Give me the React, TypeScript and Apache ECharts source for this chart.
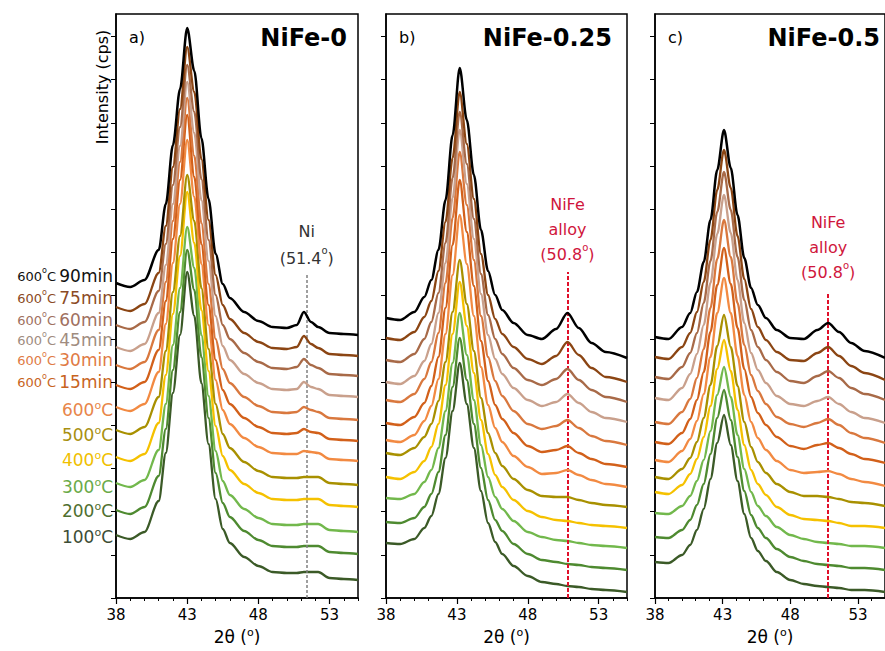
import React, { useEffect, useRef } from "react";
import * as echarts from "echarts";

const FONT = '"DejaVu Sans", "Liberation Sans", Arial, sans-serif';

// 2θ sampling (degrees) for each sample
const TWO_THETA_NIFE0 = [38, 39, 40, 41, 41.5, 42, 42.5, 43, 43.5, 44, 44.5, 45, 45.5, 46, 47, 48, 49, 50, 50.7, 51.2, 51.7, 52.2, 53, 54, 55];
const TWO_THETA_NIFE025 = [38, 39, 40, 40.7, 41.2, 41.7, 42.2, 42.7, 43.2, 43.7, 44.2, 44.7, 45.2, 45.7, 46.2, 47, 48, 49, 50, 50.8, 51.6, 52.5, 53.5, 55];
const TWO_THETA_NIFE05 = [38, 39, 40, 40.6, 41.1, 41.6, 42.1, 42.6, 43.1, 43.6, 44.1, 44.6, 45.1, 45.6, 46.2, 47, 48, 49, 50, 50.8, 51.6, 52.5, 53.5, 55];

// Offset (stacked) intensities, a.u. — NiFe-0
const NIFE0_100C = [6.3, 5.9, 6.6, 9.7, 14.5, 20.5, 26.3, 32.6, 28.2, 21.5, 15.4, 9.9, 6.9, 5.5, 4.1, 3.2, 2.6, 2.5, 2.5, 2.6, 2.6, 2.6, 2.0, 1.9, 1.8];
const NIFE0_200C = [8.8, 8.4, 9.1, 12.2, 16.9, 22.8, 28.6, 34.8, 30.8, 24.1, 18.0, 12.5, 9.5, 8.1, 6.7, 5.8, 5.2, 5.1, 5.1, 5.2, 5.2, 5.2, 4.6, 4.5, 4.4];
const NIFE0_300C = [11.5, 11.1, 11.8, 14.8, 19.4, 25.3, 31.0, 37.1, 33.0, 26.3, 20.2, 14.7, 11.7, 10.3, 8.9, 8.0, 7.4, 7.3, 7.3, 7.4, 7.4, 7.4, 6.8, 6.7, 6.6];
const NIFE0_400C = [14.1, 13.7, 14.4, 17.5, 22.3, 28.4, 34.2, 40.6, 35.5, 28.8, 22.7, 17.2, 14.2, 12.8, 11.4, 10.5, 9.9, 9.8, 9.8, 9.9, 9.9, 9.9, 9.3, 9.2, 9.1];
const NIFE0_500C = [16.8, 16.4, 17.1, 20.1, 24.7, 30.6, 36.2, 42.3, 37.7, 31.0, 24.9, 19.4, 16.4, 15.0, 13.6, 12.7, 12.1, 12.0, 12.0, 12.1, 12.1, 12.1, 11.5, 11.4, 11.3];
const NIFE0_600C = [19.1, 18.7, 19.4, 22.6, 27.4, 33.5, 39.4, 45.8, 40.1, 33.4, 27.3, 21.8, 18.8, 17.4, 16.0, 15.1, 14.5, 14.4, 14.4, 14.7, 14.6, 14.5, 13.9, 13.8, 13.7];
const NIFE0_15MIN = [21.3, 20.9, 21.6, 24.8, 29.7, 35.9, 41.8, 48.3, 42.1, 35.4, 29.3, 23.8, 20.8, 19.4, 18.0, 17.1, 16.5, 16.4, 16.5, 16.9, 16.6, 16.5, 15.9, 15.8, 15.7];
const NIFE0_30MIN = [23.3, 22.9, 23.6, 26.8, 31.6, 37.7, 43.6, 50.0, 44.2, 37.5, 31.4, 25.9, 22.9, 21.5, 20.1, 19.2, 18.6, 18.5, 18.6, 19.1, 18.8, 18.6, 18.0, 17.9, 17.8];
const NIFE0_45MIN = [25.1, 24.7, 25.4, 28.5, 33.3, 39.4, 45.2, 51.6, 46.5, 39.8, 33.7, 28.2, 25.2, 23.8, 22.4, 21.5, 20.9, 20.8, 20.9, 21.6, 21.1, 20.9, 20.3, 20.2, 20.1];
const NIFE0_60MIN = [27.3, 26.9, 27.6, 30.7, 35.4, 41.3, 47.1, 53.3, 48.6, 41.9, 35.8, 30.3, 27.3, 25.9, 24.5, 23.6, 23.0, 22.9, 23.1, 23.9, 23.3, 23.0, 22.4, 22.3, 22.2];
const NIFE0_75MIN = [29.1, 28.7, 29.4, 32.5, 37.2, 43.1, 48.9, 55.1, 50.6, 43.9, 37.8, 32.3, 29.3, 27.9, 26.5, 25.6, 25.0, 24.9, 25.1, 26.2, 25.4, 25.0, 24.4, 24.3, 24.2];
const NIFE0_90MIN = [31.5, 31.1, 31.8, 34.8, 39.4, 45.3, 50.9, 57.0, 52.7, 46.0, 39.9, 34.4, 31.4, 30.0, 28.6, 27.7, 27.1, 27.0, 27.3, 28.6, 27.6, 27.1, 26.5, 26.4, 26.3];

// NiFe-0.25
const NIFE025_100C = [5.5, 5.4, 5.9, 7.0, 8.2, 10.4, 14.0, 18.7, 23.5, 19.4, 15.0, 10.7, 7.5, 5.6, 4.4, 3.2, 2.2, 1.6, 1.4, 1.2, 1.1, 0.9, 0.8, 0.6];
const NIFE025_200C = [7.6, 7.5, 8.0, 9.1, 10.4, 12.6, 16.3, 21.1, 26.0, 21.8, 17.4, 13.0, 9.8, 7.8, 6.7, 5.4, 4.4, 3.8, 3.6, 3.4, 3.3, 3.1, 3.0, 2.8];
const NIFE025_300C = [10.0, 9.9, 10.4, 11.6, 12.8, 15.0, 18.7, 23.5, 28.5, 24.3, 19.8, 15.3, 12.1, 10.1, 8.9, 7.7, 6.6, 6.1, 5.8, 5.7, 5.5, 5.3, 5.2, 5.0];
const NIFE025_400C = [12.1, 11.9, 12.6, 13.7, 15.1, 17.4, 21.3, 26.4, 31.6, 27.2, 22.5, 17.8, 14.4, 12.3, 11.1, 9.8, 8.7, 8.1, 7.8, 7.7, 7.5, 7.3, 7.2, 7.0];
const NIFE025_500C = [14.5, 14.3, 15.0, 16.1, 17.4, 19.7, 23.6, 28.6, 33.8, 29.4, 24.7, 20.0, 16.5, 14.5, 13.2, 11.9, 10.8, 10.2, 10.1, 10.1, 9.8, 9.5, 9.3, 9.1];
const NIFE025_600C = [15.8, 15.6, 16.3, 17.7, 19.2, 21.9, 26.4, 32.3, 38.3, 33.4, 28.2, 23.1, 19.3, 17.0, 15.6, 14.2, 13.1, 12.4, 12.5, 12.8, 12.3, 11.8, 11.4, 11.1];
const NIFE025_15MIN = [17.5, 17.3, 18.1, 19.5, 21.2, 24.1, 29.0, 35.3, 41.8, 36.6, 31.2, 25.7, 21.7, 19.3, 17.9, 16.5, 15.2, 14.6, 14.8, 15.2, 14.5, 13.9, 13.4, 13.1];
const NIFE025_30MIN = [19.8, 19.6, 20.4, 21.9, 23.6, 26.5, 31.5, 38.0, 44.6, 39.3, 33.8, 28.2, 24.1, 21.7, 20.2, 18.7, 17.4, 16.9, 17.2, 17.8, 17.0, 16.2, 15.7, 15.3];
const NIFE025_45MIN = [21.6, 21.4, 22.2, 23.7, 25.4, 28.5, 33.5, 40.0, 46.8, 41.4, 35.9, 30.4, 26.3, 23.9, 22.4, 21.0, 19.8, 19.2, 19.6, 20.4, 19.5, 18.6, 18.0, 17.6];
const NIFE025_60MIN = [23.8, 23.6, 24.4, 25.9, 27.6, 30.5, 35.5, 42.0, 48.6, 43.4, 37.9, 32.4, 28.3, 25.9, 24.4, 23.0, 21.8, 21.3, 21.9, 22.9, 21.8, 20.8, 20.1, 19.6];
const NIFE025_75MIN = [26.0, 25.8, 26.6, 28.1, 29.7, 32.7, 37.6, 44.0, 50.6, 45.4, 39.9, 34.4, 30.3, 27.9, 26.4, 25.1, 23.9, 23.4, 24.2, 25.6, 24.3, 23.0, 22.1, 21.6];
const NIFE025_90MIN = [28.0, 27.8, 28.6, 30.1, 31.8, 34.8, 39.8, 46.3, 53.0, 47.8, 42.3, 36.8, 32.7, 30.3, 28.8, 27.5, 26.3, 25.9, 26.9, 28.5, 27.0, 25.5, 24.6, 24.0];

// NiFe-0.5
const NIFE05_100C = [3.6, 3.5, 4.3, 5.3, 6.8, 8.9, 11.9, 15.5, 18.3, 15.3, 11.7, 8.4, 6.0, 4.7, 3.7, 2.6, 1.8, 1.4, 1.2, 1.1, 1.0, 0.8, 0.8, 0.6];
const NIFE05_200C = [6.1, 6.0, 6.8, 7.8, 9.3, 11.4, 14.4, 18.0, 20.8, 17.8, 14.1, 10.7, 8.3, 7.0, 6.0, 4.9, 4.1, 3.7, 3.4, 3.3, 3.2, 3.0, 3.0, 2.8];
const NIFE05_300C = [8.5, 8.4, 9.2, 10.2, 11.7, 13.8, 16.7, 20.3, 23.1, 20.1, 16.3, 12.9, 10.6, 9.2, 8.2, 7.1, 6.3, 5.9, 5.6, 5.5, 5.4, 5.2, 5.2, 5.0];
const NIFE05_400C = [10.6, 10.4, 11.3, 12.4, 13.9, 16.1, 19.2, 22.9, 25.8, 22.7, 18.8, 15.3, 12.8, 11.4, 10.3, 9.1, 8.3, 7.9, 7.8, 7.7, 7.5, 7.2, 7.2, 7.0];
const NIFE05_500C = [12.1, 11.9, 12.9, 14.0, 15.6, 18.0, 21.3, 25.2, 28.3, 25.1, 21.2, 17.6, 15.1, 13.6, 12.5, 11.4, 10.6, 10.2, 10.2, 10.1, 9.9, 9.6, 9.5, 9.2];
const NIFE05_600C = [13.8, 13.6, 14.7, 15.9, 17.7, 20.4, 24.1, 28.5, 32.0, 28.5, 24.2, 20.3, 17.6, 16.0, 14.8, 13.7, 12.8, 12.5, 12.6, 12.7, 12.4, 11.9, 11.6, 11.2];
const NIFE05_15MIN = [15.6, 15.4, 16.5, 17.9, 19.8, 22.6, 26.6, 31.3, 35.0, 31.4, 27.0, 22.9, 20.1, 18.5, 17.3, 16.1, 15.2, 14.9, 15.3, 15.5, 15.0, 14.4, 13.9, 13.5];
const NIFE05_30MIN = [17.6, 17.4, 18.6, 19.9, 22.0, 24.9, 29.0, 33.9, 37.8, 34.1, 29.5, 25.3, 22.3, 20.7, 19.4, 18.1, 17.4, 17.1, 17.5, 17.9, 17.3, 16.5, 16.0, 15.5];
const NIFE05_45MIN = [20.0, 19.8, 21.0, 22.4, 24.4, 27.3, 31.5, 36.4, 40.3, 36.5, 31.8, 27.5, 24.5, 22.8, 21.5, 20.2, 19.4, 19.2, 19.7, 20.1, 19.4, 18.6, 18.0, 17.5];
const NIFE05_60MIN = [22.1, 21.9, 23.1, 24.5, 26.5, 29.5, 33.7, 38.6, 42.6, 38.8, 34.1, 29.8, 26.8, 25.1, 23.8, 22.6, 21.7, 21.5, 22.2, 22.7, 22.0, 21.0, 20.4, 19.8];
const NIFE05_75MIN = [24.1, 23.9, 25.1, 26.5, 28.6, 31.6, 35.8, 40.8, 44.8, 41.0, 36.2, 31.9, 28.9, 27.1, 25.8, 24.6, 23.8, 23.7, 24.5, 25.1, 24.2, 23.2, 22.5, 21.8];
const NIFE05_90MIN = [26.1, 25.9, 27.1, 28.5, 30.6, 33.6, 37.8, 42.8, 46.8, 43.0, 38.3, 34.0, 31.0, 29.3, 28.0, 26.8, 26.0, 25.9, 26.8, 27.5, 26.6, 25.5, 24.7, 24.0];

// Heat-treatment steps, bottom to top
const STEP_TEMPS = ["100", "200", "300", "400", "500", "600", "600", "600", "600", "600", "600", "600"];
const STEP_HOLDS = ["", "", "", "", "", "", "15min", "30min", "45min", "60min", "75min", "90min"];

const X_TICKS = [38, 43, 48, 53];
const NI_PEAK = 51.4;
const ALLOY_PEAK = 50.8;

// styling
const CURVE_COLORS = ["#3b5a27", "#4e8a30", "#72b84c", "#f5c100", "#a89000", "#f28a42", "#d2601a", "#d9783e", "#c9a08c", "#a86a48", "#8b4513", "#000000"];
const LABEL_COLORS = ["#3d4d35", "#4f6f30", "#6aaa48", "#f0c000", "#a89010", "#e8864a", "#c8641e", "#e07a44", "#a08c80", "#a07060", "#8b4a25", "#111111"];
const LABEL_Y = [537, 511, 487, 460, 435, 410, 382, 360, 340, 320, 298, 276];

const Y_MAX = 58.4;
const Y_STEP = 4.32;
const Y_TICKS = Array.from({ length: 14 }, (_, i) => +(i * Y_STEP).toFixed(2));

const RED = "#d0163c";

const PANELS = [
  {
    x: TWO_THETA_NIFE0,
    curves: [NIFE0_100C, NIFE0_200C, NIFE0_300C, NIFE0_400C, NIFE0_500C, NIFE0_600C, NIFE0_15MIN, NIFE0_30MIN, NIFE0_45MIN, NIFE0_60MIN, NIFE0_75MIN, NIFE0_90MIN],
    left: 116, width: 242, letter: "a)", title: "NiFe-0",
    peak: NI_PEAK, markTop: 32.3, markColor: "#808080", textColor: "#333333",
    markText: "{t|Ni}\n{t|(" + NI_PEAK + "}{s|o}{t|)}", markDist: 3, lh: 27, dash: [3, 2], mw: 1.5,
  },
  {
    x: TWO_THETA_NIFE025,
    curves: [NIFE025_100C, NIFE025_200C, NIFE025_300C, NIFE025_400C, NIFE025_500C, NIFE025_600C, NIFE025_15MIN, NIFE025_30MIN, NIFE025_45MIN, NIFE025_60MIN, NIFE025_75MIN, NIFE025_90MIN],
    left: 386, width: 241, letter: "b)", title: "NiFe-0.25",
    peak: ALLOY_PEAK, markTop: 32.6, markColor: "#e0102a", textColor: RED,
    markText: "{t|NiFe}\n{t|alloy}\n{t|(" + ALLOY_PEAK + "}{s|o}{t|)}", markDist: 5, lh: 25, dash: [4, 2], mw: 2,
  },
  {
    x: TWO_THETA_NIFE05,
    curves: [NIFE05_100C, NIFE05_200C, NIFE05_300C, NIFE05_400C, NIFE05_500C, NIFE05_600C, NIFE05_15MIN, NIFE05_30MIN, NIFE05_45MIN, NIFE05_60MIN, NIFE05_75MIN, NIFE05_90MIN],
    left: 655, width: 241, letter: "c)", title: "NiFe-0.5",
    peak: ALLOY_PEAK, markTop: 30.5, markColor: "#e0102a", textColor: RED,
    markText: "{t|NiFe}\n{t|alloy}\n{t|(" + ALLOY_PEAK + "}{s|o}{t|)}", markDist: 8, lh: 25, dash: [4, 2], mw: 2,
  },
];

const TITLE_RIGHT = [347, 612, 880];

function buildOption() {
  const grid: any[] = [];
  const xAxis: any[] = [];
  const yAxis: any[] = [];
  const series: any[] = [];
  const graphic: any[] = [];

  PANELS.forEach((p, i) => {
    grid.push({
      left: p.left, top: 14, width: p.width, height: 584,
      show: true, borderColor: "#000", borderWidth: 1.5, backgroundColor: "transparent",
    });
    xAxis.push({
      gridIndex: i, type: "value", min: 38, max: 55, interval: 1, position: "bottom",
      axisLine: { onZero: false, lineStyle: { color: "#000", width: 1.5 } },
      axisTick: { inside: false, length: 3, lineStyle: { color: "#000", width: 1 } },
      axisLabel: { customValues: X_TICKS, color: "#000", fontSize: 15, fontFamily: FONT, margin: 9 },
      splitLine: { show: false },
      name: "{n|2θ (}{o|o}{n|)}",
      nameLocation: "middle", nameGap: 26,
      nameTextStyle: {
        rich: {
          n: { fontSize: 17, fontFamily: FONT, color: "#000", lineHeight: 20 },
          o: { fontSize: 11, fontFamily: FONT, color: "#000", verticalAlign: "top", lineHeight: 12 },
        },
      },
    });
    xAxis.push({
      gridIndex: i, type: "value", min: 38, max: 55, position: "bottom",
      axisLine: { show: false },
      axisTick: { customValues: X_TICKS, inside: false, length: 6, lineStyle: { color: "#000", width: 1.2 } },
      axisLabel: { show: false },
      splitLine: { show: false },
    });
    yAxis.push({
      gridIndex: i, type: "value", min: 0, max: Y_MAX,
      axisLine: { show: true, lineStyle: { color: "#000", width: 1.5 } },
      axisTick: { show: true, inside: false, length: 5, customValues: Y_TICKS, lineStyle: { color: "#000", width: 1 } },
      axisLabel: { show: false },
      splitLine: { show: false },
    });

    p.curves.forEach((ys, k) => {
      const s: any = {
        type: "line", xAxisIndex: 2 * i, yAxisIndex: i,
        data: p.x.map((x, j) => [x, ys[j]]),
        symbol: "none", showSymbol: false, smooth: 0.3, smoothMonotone: "x",
        lineStyle: { color: CURVE_COLORS[k], width: k === 11 ? 2.5 : 2.3 },
        silent: true, z: 2 + k,
      };
      if (k === 11) {
        s.markLine = {
          silent: true, symbol: ["none", "none"], animation: false,
          lineStyle: { color: p.markColor, type: p.dash, width: p.mw },
          label: {
            show: true, position: "end", distance: p.markDist,
            formatter: p.markText,
            rich: {
              t: { fontSize: 16, fontFamily: FONT, color: p.textColor, lineHeight: p.lh, align: "center" },
              s: { fontSize: 10, fontFamily: FONT, color: p.textColor, verticalAlign: "top", lineHeight: 12 },
            },
          },
          data: [[{ coord: [p.peak, 0] }, { coord: [p.peak, p.markTop] }]],
        };
      }
      series.push(s);
    });

    graphic.push({
      type: "text", x: p.left + 13, y: 37, silent: true,
      style: { text: p.letter, fill: "#000", font: `16px ${FONT}`, align: "left", verticalAlign: "middle" },
    });
    graphic.push({
      type: "text", x: TITLE_RIGHT[i], y: 38, silent: true,
      style: { text: p.title, fill: "#000", font: `bold 24px ${FONT}`, align: "right", verticalAlign: "middle" },
    });
  });

  graphic.push({
    type: "text", x: 102, y: 87, rotation: Math.PI / 2, silent: true,
    style: { text: "Intensity (cps)", fill: "#000", font: `16px ${FONT}`, align: "center", verticalAlign: "middle" },
  });

  STEP_TEMPS.forEach((t, i) => {
    const c = LABEL_COLORS[i];
    const text = STEP_HOLDS[i]
      ? `{s|${t}}{so|o}{s|C} {b|${STEP_HOLDS[i]}}`
      : `{b|${t}}{bo|o}{b|C}`;
    graphic.push({
      type: "text", x: 113, y: LABEL_Y[i], silent: true,
      style: {
        text, align: "right", verticalAlign: "middle",
        rich: {
          s: { fill: c, fontSize: 13, fontFamily: FONT, lineHeight: 20 },
          so: { fill: c, fontSize: 8, fontFamily: FONT, verticalAlign: "top", lineHeight: 17 },
          b: { fill: c, fontSize: 17, fontFamily: FONT, lineHeight: 20 },
          bo: { fill: c, fontSize: 11, fontFamily: FONT, verticalAlign: "top", lineHeight: 12 },
        },
      },
    });
  });

  return { animation: false, backgroundColor: "#fff", grid, xAxis, yAxis, series, graphic };
}

export default function App() {
  const ref = useRef<HTMLDivElement>(null);
  useEffect(() => {
    const chart = echarts.init(ref.current!, null, { renderer: "svg" });
    chart.setOption(buildOption());
    return () => chart.dispose();
  }, []);
  return (
    <div
      ref={ref}
      style={{ position: "absolute", left: 0, top: 0, width: 885, height: 651, background: "#fff" }}
    />
  );
}
